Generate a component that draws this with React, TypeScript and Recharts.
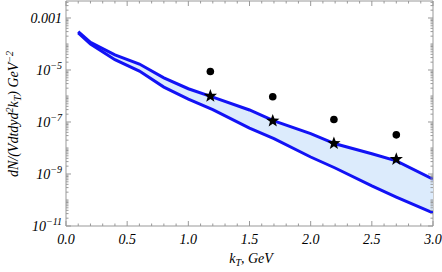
import React from "react";
import {
  Area,
  ComposedChart,
  Line,
  ReferenceArea,
  Scatter,
  XAxis,
  YAxis,
} from "recharts";

// band of model curves, kT in GeV
const K_BAND = [0.1, 0.2, 0.4, 0.6, 0.8, 1.0, 1.2, 1.5, 1.7, 2.0, 2.2, 2.5, 2.7, 3.0];
const UPPER = [3.0e-4, 1.15e-4, 3.8e-5, 1.7e-5, 5.0e-6, 1.9e-6, 9.1e-7, 2.9e-7, 1.1e-7, 3.6e-8, 1.45e-8, 6.0e-9, 3.2e-9, 6.3e-10];
const LOWER = [2.7e-4, 1.0e-4, 2.5e-5, 9.1e-6, 2.2e-6, 7.6e-7, 3.0e-7, 5.8e-8, 2.3e-8, 4.5e-9, 1.7e-9, 3.5e-10, 1.3e-10, 3.2e-11];

// points
const K_POINTS = [1.18, 1.69, 2.19, 2.7];
const STARS = [1.0e-6, 1.1e-7, 1.5e-8, 3.7e-9];
const DOTS = [8.7e-6, 9.3e-7, 1.25e-7, 3.2e-8];

const X_MAJOR = [0, 0.5, 1, 1.5, 2, 2.5, 3];
const Y_LABELED = [-3, -5, -7, -9, -11];

const W = 442;
const H = 272;
const LEFT = 66;
const RIGHT = 433;
const TOP = 1;
const BOTTOM = 226;
const FRAME = "#999";
const FONT = '"Liberation Serif", "Times New Roman", serif';

const bandData = K_BAND.map((k, i) => ({
  k,
  hi: UPPER[i],
  lo: LOWER[i],
  range: [LOWER[i], UPPER[i]],
}));
const starData = K_POINTS.map((k, i) => ({ k, v: STARS[i] }));
const dotData = K_POINTS.map((k, i) => ({ k, v: DOTS[i] }));

const xTicks: number[] = [];
for (let i = 0; i <= 30; i++) xTicks.push(i / 10);

const yTicks: number[] = [];
for (let e = -11; e <= -3; e++) {
  for (let m = 1; m <= 9; m++) {
    const v = parseFloat(`${m}e${e}`);
    if (v <= 4.5e-3) yTicks.push(v);
  }
}

const XTick = (props: any) => {
  const { x, payload } = props;
  const v = payload.value;
  const major = X_MAJOR.some((m) => Math.abs(m - v) < 1e-6);
  const len = major ? 5 : 2.5;
  return (
    <g>
      <line x1={x} y1={BOTTOM} x2={x} y2={BOTTOM - len} stroke={FRAME} />
      <line x1={x} y1={TOP} x2={x} y2={TOP + len} stroke={FRAME} />
      {major && (
        <text
          x={x}
          y={244}
          textAnchor="middle"
          fontFamily={FONT}
          fontStyle="italic"
          fontSize={14}
          fill="#000"
        >
          {v.toFixed(1)}
        </text>
      )}
    </g>
  );
};

const YTick = (props: any) => {
  const { y, payload } = props;
  const v = payload.value;
  const e = Math.round(Math.log10(v));
  const isDecade = Math.abs(v / Math.pow(10, e) - 1) < 1e-6;
  const labeled = isDecade && Y_LABELED.includes(e);
  const len = labeled ? 5 : 2.5;
  return (
    <g>
      <line x1={LEFT} y1={y} x2={LEFT + len} y2={y} stroke={FRAME} />
      <line x1={RIGHT} y1={y} x2={RIGHT - len} y2={y} stroke={FRAME} />
      {labeled && (
        <text
          x={62}
          y={y + 5}
          textAnchor="end"
          fontFamily={FONT}
          fontStyle="italic"
          fontSize={14}
          fill="#000"
        >
          {e === -3 ? (
            "0.001"
          ) : (
            <>
              <tspan>10</tspan>
              <tspan dy={-6} fontSize={10}>
                {"\u2212" + Math.abs(e)}
              </tspan>
            </>
          )}
        </text>
      )}
    </g>
  );
};

const YLabel = () => (
  <text
    x={18}
    y={114}
    transform="rotate(-90, 18, 114)"
    textAnchor="middle"
    fontFamily={FONT}
    fontStyle="italic"
    fontSize={14}
    fill="#000"
  >
    <tspan>dN/(Vdtdyd</tspan>
    <tspan dy={-5} fontSize={10}>2</tspan>
    <tspan dy={5}>k</tspan>
    <tspan dy={3} fontSize={10}>T</tspan>
    <tspan dy={-3}>) GeV</tspan>
    <tspan dy={-5} fontSize={10}>{"\u22122"}</tspan>
  </text>
);

const XLabel = () => (
  <text
    x={251}
    y={263}
    textAnchor="middle"
    fontFamily={FONT}
    fontStyle="italic"
    fontSize={14}
    fill="#000"
  >
    <tspan>k</tspan>
    <tspan dy={3} fontSize={10}>T</tspan>
    <tspan dy={-3}>, GeV</tspan>
  </text>
);

const Star = (props: any) => {
  const { cx, cy } = props;
  const pts: string[] = [];
  for (let i = 0; i < 10; i++) {
    const r = i % 2 === 0 ? 7 : 2.9;
    const a = -Math.PI / 2 + (i * Math.PI) / 5;
    pts.push(`${cx + r * Math.cos(a)},${cy + r * Math.sin(a)}`);
  }
  return <polygon points={pts.join(" ")} fill="#000" />;
};

const Dot = (props: any) => <circle cx={props.cx} cy={props.cy} r={3.8} fill="#000" />;

export default function App() {
  return (
    <div style={{ position: "absolute", left: 0, top: 0, width: W, height: H, background: "#fff" }}>
      <ComposedChart
        width={W}
        height={H}
        data={bandData}
        margin={{ top: TOP, right: W - RIGHT, bottom: 0, left: 0 }}
      >
        <XAxis
          dataKey="k"
          type="number"
          domain={[0, 3]}
          ticks={xTicks}
          interval={0}
          allowDataOverflow
          axisLine={false}
          tickLine={false}
          height={H - BOTTOM}
          tick={<XTick />}
          label={<XLabel />}
        />
        <YAxis
          type="number"
          scale="log"
          domain={[1e-11, 4.5e-3]}
          ticks={yTicks}
          interval={0}
          allowDataOverflow
          axisLine={false}
          tickLine={false}
          width={LEFT}
          tick={<YTick />}
          label={<YLabel />}
        />
        <ReferenceArea
          x1={0}
          x2={3}
          y1={1e-11}
          y2={4.5e-3}
          fill="none"
          stroke={FRAME}
          strokeWidth={1}
          ifOverflow="visible"
        />
        <Area
          dataKey="range"
          type="linear"
          fill="#dcebfc"
          fillOpacity={1}
          stroke="none"
          isAnimationActive={false}
        />
        <Line dataKey="hi" type="linear" stroke="#1212f5" strokeWidth={3} dot={false} isAnimationActive={false} />
        <Line dataKey="lo" type="linear" stroke="#1212f5" strokeWidth={3} dot={false} isAnimationActive={false} />
        <Scatter data={dotData} dataKey="v" shape={<Dot />} isAnimationActive={false} />
        <Scatter data={starData} dataKey="v" shape={<Star />} isAnimationActive={false} />
      </ComposedChart>
    </div>
  );
}
